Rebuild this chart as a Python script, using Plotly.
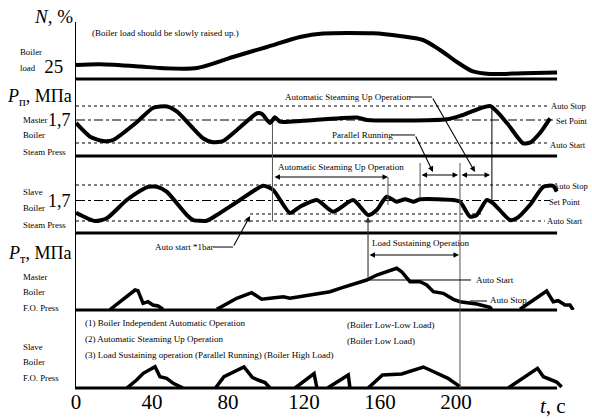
import plotly.graph_objects as go

FONT = "Liberation Serif"

# ---------------- data (t in seconds) ----------------
# Panel 1: boiler load, %
load_t = [0, 12.6, 33.7, 44.2, 63.7, 82.6, 100.5, 117.9, 130, 156.3, 170.5, 182.6, 191.6, 200.5, 208.9, 217.9, 235.3, 253.2]
load_pct = [28, 29.4, 25, 22, 22, 44, 64, 84, 91, 91.4, 86, 78, 58, 34, 15, 10, 11.4, 13]

# Panel 2: master boiler steam pressure, MPa
master_t = [0, 7.4, 14.2, 19.5, 32.1, 40.5, 47.9, 53.2, 66.8, 72.1, 77.4, 84.7, 95.3, 97.9, 102.1,
            104.7, 107.4, 119.5, 147.9, 153.2, 195.3, 203.7, 217.9, 226.8, 235.3, 238.9, 244.2, 249.5]
master_p = [1.67, 1.533, 1.49, 1.5, 1.68, 1.82, 1.835, 1.783, 1.517, 1.477, 1.49, 1.6, 1.767, 1.76, 1.67,
            1.727, 1.683, 1.693, 1.725, 1.7, 1.707, 1.75, 1.84, 1.67, 1.467, 1.473, 1.57, 1.717]

# Panel 3: slave boiler steam pressure, MPa
slave_t = [0, 10, 16.2, 26.7, 37.2, 42.5, 47.7, 58.3, 61.7, 68.8, 74.1, 86.3, 98.6, 103.8, 112.6, 117.9,
           126.7, 135.4, 145.9, 153.8, 158.3, 163.5, 168.8, 173.2, 177.5, 181.1, 198.6, 202.1, 207.4,
           210.9, 216.2, 219.6, 228.4, 232, 238.9, 246, 251.2, 253]
slave_p = [1.578, 1.495, 1.522, 1.705, 1.832, 1.838, 1.788, 1.555, 1.505, 1.498, 1.555, 1.705, 1.848, 1.805,
           1.575, 1.638, 1.705, 1.588, 1.705, 1.555, 1.605, 1.738, 1.688, 1.712, 1.688, 1.712, 1.705, 1.688,
           1.538, 1.555, 1.705, 1.672, 1.505, 1.522, 1.655, 1.838, 1.845, 1.788]

# Panel 4: master boiler F.O. pressure (relative units), gaps = burner off
mfo_t = [17.9, 24.2, 31.1, 32.6, 35.3, 37.9, 40.5, 43.2, 45.8, None,
         74.1, 84.6, 92.5, 97.7, 102.1, 109.1, 112.6, 119.6, 126.7, 133.7, 138.9, 153, 158.3, 168.8,
         171.4, 175.8, 181.1, 184.6, 188.1, 193.3, 198.6, 202.1, 210.9, 217.9, 218.8, None,
         233.7, 240.7, 247.7, 251.2, 253.8, 257.4, 260, 261.7]
mfo_v = [0.5, 10, 20, 19.3, 6.7, 8.3, 5, 4, 0.7, None,
         0.7, 11.7, 17.3, 10.7, 11.7, 13.3, 11.7, 14, 16.7, 18.3, 21.7, 30, 35, 41.7,
         38.3, 28.3, 28.3, 25, 18.3, 16.7, 10.7, 8.3, 6, 2.7, 0.7, None,
         0.7, 10, 19, 8.3, 9.3, 5, 5, 0]

# Panel 5: slave boiler F.O. pressure (relative units)
sfo_t = [26.8, 31.9, 35.4, 41.6, 44.2, 47.7, 51.2, 56.3, None,
         73.4, 77.9, 88.4, 92.9, 95.8, 99.5, 102.1, None,
         115.3, 125.3, 126.8, None,
         132.4, 143.3, 144.2, None,
         153.8, 161.3, 171.4, 182.8, 186.3, 195.8, 202.1, None,
         227.5, 242.9, 246, 249.9, 253, 255.6]
sfo_v = [0, 8, 14.7, 21.3, 11.3, 9.7, 4.7, 0, None,
         0, 11.3, 21, 10.5, 8, 5.5, 0, None,
         0, 14.5, 0, None,
         0, 13, 0, None,
         0, 13, 14, 21, 18, 9.7, 1.3, None,
         0, 19.7, 11.3, 8, 6, 1]

# reference levels
SET_POINT = 1.7
M_AUTO_STOP, M_AUTO_START = 1.84, 1.47
S_AUTO_STOP, S_AUTO_START, S_START_1BAR = 1.855, 1.495, 1.565

x_ticks = [0, 40, 80, 120, 160, 200]
x_labels = ["0", "40", "80", "120", "160", "200"]

# ---------------- figure ----------------
fig = go.Figure()
curve = dict(color="black", width=4)
fig.add_trace(go.Scatter(x=load_t, y=load_pct, yaxis="y", mode="lines",
                         line=dict(curve, shape="spline", smoothing=0.8)))
fig.add_trace(go.Scatter(x=master_t, y=master_p, yaxis="y2", mode="lines",
                         line=dict(curve, shape="spline", smoothing=0.6)))
fig.add_trace(go.Scatter(x=slave_t, y=slave_p, yaxis="y3", mode="lines",
                         line=dict(curve, shape="spline", smoothing=0.6)))
fig.add_trace(go.Scatter(x=mfo_t, y=mfo_v, yaxis="y4", mode="lines", line=dict(curve, width=3.5)))
fig.add_trace(go.Scatter(x=sfo_t, y=sfo_v, yaxis="y5", mode="lines", line=dict(curve, width=3.5)))

X0, X1 = -0.526, 267.9
X_END = 253.2
doms = [[0.8443, 1.0], [0.6339, 0.8443], [0.4235, 0.6339], [0.2131, 0.4235], [0.0, 0.2131]]
ranges = [[0, 114], [1.34, 2.11], [1.375, 2.145], [0, 77], [0, 78]]

def px_of(t):
    """paper x of a time value (for texts that may sit outside the axis range)"""
    return (t - X0) / (X1 - X0)

def yax(i, **kw):
    d = dict(domain=doms[i], range=ranges[i], showgrid=False, zeroline=False, showline=False,
             showticklabels=False, ticks="", anchor="x", fixedrange=True, automargin=False)
    d.update(kw)
    return d

def tickstyle(size):
    return dict(showticklabels=True, ticks="outside", tickcolor="rgba(0,0,0,0)",
                tickfont=dict(family=FONT, size=size, color="black"))

shapes = []
def hline(x0, x1, y, yref, width=1, dash="solid", color="black"):
    shapes.append(dict(type="line", xref="x", yref=yref, x0=x0, x1=x1, y0=y, y1=y,
                       line=dict(color=color, width=width, dash=dash)))
def vline(x, y0, y1, width=1, color="#555555"):
    shapes.append(dict(type="line", xref="x", yref="paper", x0=x, x1=x, y0=y0, y1=y1,
                       line=dict(color=color, width=width)))

# panel frame
vline(X0, 0, 1, width=2, color="black")
for yb in [0.8443, 0.6339, 0.4235, 0.2131, 0.0]:
    hline(X0, X_END, yb, "paper", width=3)

# reference levels
hline(0, 249.5, M_AUTO_STOP, "y2", 1.2, "dot")
hline(0, 251, SET_POINT, "y2", 1.2, "dashdot")
hline(0, 249.5, M_AUTO_START, "y2", 1.2, "dot")
hline(0, 246.8, S_AUTO_STOP, "y3", 1.2, "dot")
hline(0, 249.5, SET_POINT, "y3", 1.2, "dashdot")
hline(0, 246.8, S_AUTO_START, "y3", 1.2, "dot")
hline(91.6, 214.2, S_START_1BAR, "y3", 1.2, "dot")

# thin marker lines
vline(103.4, 0.724, 0.4563)
vline(164.2, 0.5765, 0.50)
vline(181.1, 0.6148, 0.5191)
vline(202.1, 0.6148, 0.0)
vline(218.9, 0.7705, 0.5137, color="black")

# leaders
hline(175.8, 187.4, 0.795, "paper")
hline(166.3, 178.4, 0.6913, "paper")
hline(72.1, 82.6, 0.3852, "paper")
hline(153.7, 207.9, 30, "y4")
hline(207.4, 216.3, 9, "y4")

ann = []
def txt(t, y, s, size=9, xanchor="left"):
    ann.append(dict(x=px_of(t), y=y, xref="paper", yref="paper", text=s, showarrow=False,
                    xanchor=xanchor, yanchor="middle",
                    font=dict(family=FONT, size=size, color="black")))

def arrow(x, y, yref, ax, ay, axref="pixel", ayref="pixel", both=False, color="black"):
    d = dict(x=x, y=y, xref="x", yref=yref, ax=ax, ay=ay, axref=axref, ayref=ayref,
             text="", showarrow=True, arrowhead=2, arrowsize=1, arrowwidth=1.1, arrowcolor=color)
    if both:
        d["arrowside"] = "end+start"
        d["startarrowhead"] = 2
        d["startarrowsize"] = 1
    ann.append(d)

# leader diagonals with arrowheads
arrow(210.0, 1.985, "y3", -43, -75)
arrow(187.9, 1.985, "y3", -18, -37)
arrow(91.6, 1.545, "y3", -17, 31)
arrow(153.7, 1.535, "y3", 0, 63, color="#333333")
# interval arrows
arrow(164.2, 1.935, "y3", 103.7, 1.935, "x", "y3", both=True)
arrow(201.1, 1.955, "y3", 181.1, 1.955, "x", "y3", both=True)
arrow(217.9, 1.955, "y3", 202.1, 1.955, "x", "y3", both=True)
arrow(201.6, 55, "y4", 153.7, 55, "x", "y4", both=True)

# axis titles
txt(-12.1, 1.0137, "<i>N</i>, %", size=19, xanchor="center")
txt(-1.0, 0.795, "<i>P</i><sub>п</sub>, МПа", size=18, xanchor="right")
txt(-1.3, 0.3634, "<i>P</i><sub>т</sub>, МПа", size=18, xanchor="right")
txt(251, -0.049, "<i>t</i>, с", size=21, xanchor="center")

# left row labels
def rowlab(lines, ys, t=-28.9):
    for s, yy in zip(lines, ys):
        txt(t, yy, s, size=8.8)
rowlab(["Boiler", "load"], [0.918, 0.874], t=-30.5)
rowlab(["Master", "Boiler", "Steam Press"], [0.7322, 0.6913, 0.6448])
rowlab(["Slave", "Boiler", "Steam Press"], [0.5362, 0.4918, 0.4454])
rowlab(["Master", "Boiler", "F.O. Press"], [0.3033, 0.2623, 0.2186])
rowlab(["Slave", "Boiler", "F.O. Press"], [0.1120, 0.0710, 0.0273])

# in-plot texts
txt(7.4, 0.970, "(Boiler load should be slowly raised up.)")
txt(108.9, 0.795, "Automatic Steaming Up Operation")
txt(133.7, 0.6913, "Parallel Running")
txt(269.5, 0.7705, "Auto Stop", size=8.5, xanchor="right")
txt(270.5, 0.7295, "Set Point", size=8.5, xanchor="right")
txt(269.5, 0.6639, "Auto Start", size=8.5, xanchor="right")
txt(105.3, 0.6038, "Automatic Steaming Up Operation")
txt(270.5, 0.5519, "Auto Stop", size=8.5, xanchor="right")
txt(266.8, 0.5082, "Set Point", size=8.5, xanchor="right")
txt(267.9, 0.4563, "Auto Start", size=8.5, xanchor="right")
txt(40.5, 0.3852, "Auto start *1bar")
txt(154.7, 0.3962, "Load Sustaining Operation")
txt(209.5, 0.2951, "Auto Start")
txt(216.8, 0.2404, "Auto Stop")
txt(3.7, 0.1776, "(1) Boiler Independent Automatic Operation")
txt(3.7, 0.1339, "(2) Automatic Steaming Up Operation")
txt(3.7, 0.0902, "(3) Load Sustaining operation (Parallel Running) (Boiler High Load)")
txt(141.6, 0.1721, "(Boiler Low-Low Load)")
txt(141.6, 0.1284, "(Boiler Low Load)")

fig.update_layout(
    width=592, height=419, autosize=False,
    margin=dict(l=75, r=7, t=22, b=31, autoexpand=False),
    paper_bgcolor="white", plot_bgcolor="white",
    showlegend=False,
    xaxis=dict(range=[X0, X1], tickvals=x_ticks, ticktext=x_labels, showgrid=False, zeroline=False,
               showline=False, anchor="y5", ticks="", ticklabelstandoff=-1,
               tickfont=dict(family=FONT, size=21, color="black"), fixedrange=True, automargin=False),
    yaxis=yax(0, tickvals=[25], ticktext=["25"], ticklen=7, **tickstyle(19)),
    yaxis2=yax(1, tickvals=[SET_POINT], ticktext=["1,7"], ticklen=0, **tickstyle(18)),
    yaxis3=yax(2, tickvals=[SET_POINT], ticktext=["1,7"], ticklen=0, **tickstyle(18)),
    yaxis4=yax(3),
    yaxis5=yax(4),
    shapes=shapes,
    annotations=ann,
)

fig.write_html("out.html")
